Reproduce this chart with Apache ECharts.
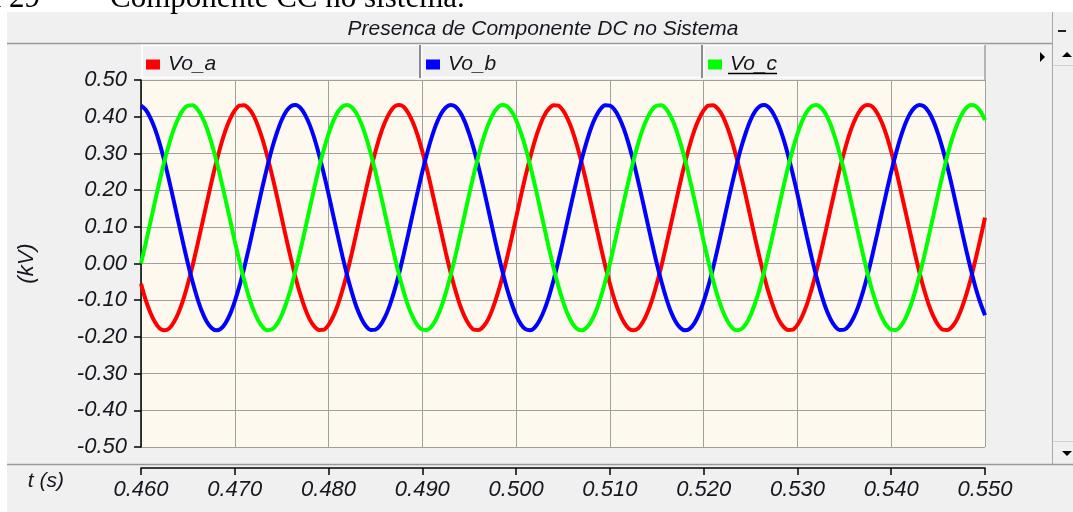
<!DOCTYPE html>
<html>
<head>
<meta charset="utf-8">
<script src="https://cdn.jsdelivr.net/npm/echarts@6/dist/echarts.min.js"></script>
<style>
html,body{margin:0;padding:0;background:#fff;}
#c{width:1073px;height:512px;}
</style>
</head>
<body>
<div id="c"></div>
<script>
// ---- data (every 0.5 ms) ----
const chartTitle = 'Presenca de Componente DC no Sistema';
const seriesNames = ['Vo_a', 'Vo_b', 'Vo_c'];
const yTicks = [-0.5, 0.5, 0.1];      // min, max, step (kV)
const xTicks = [0.46, 0.55, 0.01];    // min, max, step (s)

const t = [
0.4600,0.4605,0.4610,0.4615,0.4620,0.4625,0.4630,0.4635,0.4640,0.4645,
0.4650,0.4655,0.4660,0.4665,0.4670,0.4675,0.4680,0.4685,0.4690,0.4695,
0.4700,0.4705,0.4710,0.4715,0.4720,0.4725,0.4730,0.4735,0.4740,0.4745,
0.4750,0.4755,0.4760,0.4765,0.4770,0.4775,0.4780,0.4785,0.4790,0.4795,
0.4800,0.4805,0.4810,0.4815,0.4820,0.4825,0.4830,0.4835,0.4840,0.4845,
0.4850,0.4855,0.4860,0.4865,0.4870,0.4875,0.4880,0.4885,0.4890,0.4895,
0.4900,0.4905,0.4910,0.4915,0.4920,0.4925,0.4930,0.4935,0.4940,0.4945,
0.4950,0.4955,0.4960,0.4965,0.4970,0.4975,0.4980,0.4985,0.4990,0.4995,
0.5000,0.5005,0.5010,0.5015,0.5020,0.5025,0.5030,0.5035,0.5040,0.5045,
0.5050,0.5055,0.5060,0.5065,0.5070,0.5075,0.5080,0.5085,0.5090,0.5095,
0.5100,0.5105,0.5110,0.5115,0.5120,0.5125,0.5130,0.5135,0.5140,0.5145,
0.5150,0.5155,0.5160,0.5165,0.5170,0.5175,0.5180,0.5185,0.5190,0.5195,
0.5200,0.5205,0.5210,0.5215,0.5220,0.5225,0.5230,0.5235,0.5240,0.5245,
0.5250,0.5255,0.5260,0.5265,0.5270,0.5275,0.5280,0.5285,0.5290,0.5295,
0.5300,0.5305,0.5310,0.5315,0.5320,0.5325,0.5330,0.5335,0.5340,0.5345,
0.5350,0.5355,0.5360,0.5365,0.5370,0.5375,0.5380,0.5385,0.5390,0.5395,
0.5400,0.5405,0.5410,0.5415,0.5420,0.5425,0.5430,0.5435,0.5440,0.5445,
0.5450,0.5455,0.5460,0.5465,0.5470,0.5475,0.5480,0.5485,0.5490,0.5495,
0.5500];

const voA = [
-0.055,-0.099,-0.134,-0.160,-0.177,-0.182,-0.177,-0.160,-0.134,-0.099,
-0.055,-0.006,0.049,0.106,0.163,0.220,0.273,0.321,0.362,0.394,
0.417,0.430,0.431,0.422,0.403,0.373,0.335,0.289,0.238,0.183,
0.125,0.067,0.012,-0.040,-0.085,-0.123,-0.153,-0.172,-0.181,-0.180,
-0.167,-0.144,-0.112,-0.071,-0.023,0.030,0.087,0.144,0.201,0.256,
0.305,0.349,0.384,0.410,0.427,0.432,0.427,0.410,0.384,0.349,
0.305,0.256,0.201,0.144,0.087,0.030,-0.023,-0.071,-0.112,-0.144,
-0.167,-0.180,-0.181,-0.172,-0.153,-0.123,-0.085,-0.040,0.012,0.067,
0.125,0.183,0.238,0.289,0.335,0.373,0.403,0.422,0.431,0.430,
0.417,0.394,0.362,0.321,0.273,0.220,0.163,0.106,0.049,-0.006,
-0.055,-0.099,-0.134,-0.160,-0.177,-0.182,-0.177,-0.160,-0.134,-0.099,
-0.055,-0.006,0.049,0.106,0.163,0.220,0.273,0.321,0.362,0.394,
0.417,0.430,0.431,0.422,0.403,0.373,0.335,0.289,0.238,0.183,
0.125,0.067,0.012,-0.040,-0.085,-0.123,-0.153,-0.172,-0.181,-0.180,
-0.167,-0.144,-0.112,-0.071,-0.023,0.030,0.087,0.144,0.201,0.256,
0.305,0.349,0.384,0.410,0.427,0.432,0.427,0.410,0.384,0.349,
0.305,0.256,0.201,0.144,0.087,0.030,-0.023,-0.071,-0.112,-0.144,
-0.167,-0.180,-0.181,-0.172,-0.153,-0.123,-0.085,-0.040,0.012,0.067,
0.125];

const voB = [
0.430,0.419,0.397,0.366,0.326,0.279,0.226,0.170,0.112,0.055,
0.000,-0.050,-0.094,-0.131,-0.158,-0.175,-0.182,-0.178,-0.163,-0.138,
-0.103,-0.061,-0.012,0.042,0.099,0.157,0.214,0.267,0.316,0.357,
0.391,0.415,0.429,0.432,0.424,0.405,0.377,0.340,0.295,0.244,
0.189,0.131,0.074,0.018,-0.034,-0.080,-0.120,-0.150,-0.171,-0.181,
-0.180,-0.169,-0.147,-0.116,-0.076,-0.029,0.024,0.080,0.138,0.195,
0.250,0.300,0.344,0.381,0.408,0.425,0.432,0.428,0.413,0.388,
0.353,0.311,0.262,0.208,0.151,0.093,0.036,-0.017,-0.066,-0.107,
-0.141,-0.165,-0.179,-0.182,-0.174,-0.155,-0.127,-0.090,-0.045,0.006,
0.061,0.119,0.176,0.232,0.284,0.330,0.370,0.400,0.421,0.431,
0.430,0.419,0.397,0.366,0.326,0.279,0.226,0.170,0.112,0.055,
0.000,-0.050,-0.094,-0.131,-0.158,-0.175,-0.182,-0.178,-0.163,-0.138,
-0.103,-0.061,-0.012,0.042,0.099,0.157,0.214,0.267,0.316,0.357,
0.391,0.415,0.429,0.432,0.424,0.405,0.377,0.340,0.295,0.244,
0.189,0.131,0.074,0.018,-0.034,-0.080,-0.120,-0.150,-0.171,-0.181,
-0.180,-0.169,-0.147,-0.116,-0.076,-0.029,0.024,0.080,0.138,0.195,
0.250,0.300,0.344,0.381,0.408,0.425,0.432,0.428,0.413,0.388,
0.353,0.311,0.262,0.208,0.151,0.093,0.036,-0.017,-0.066,-0.107,
-0.141];

const voC = [
0.000,0.055,0.112,0.170,0.226,0.279,0.326,0.366,0.397,0.419,
0.430,0.431,0.421,0.400,0.370,0.330,0.284,0.232,0.176,0.119,
0.061,0.006,-0.045,-0.090,-0.127,-0.155,-0.174,-0.182,-0.179,-0.165,
-0.141,-0.107,-0.066,-0.017,0.036,0.093,0.151,0.208,0.262,0.311,
0.353,0.388,0.413,0.428,0.432,0.425,0.408,0.381,0.344,0.300,
0.250,0.195,0.138,0.080,0.024,-0.029,-0.076,-0.116,-0.147,-0.169,
-0.180,-0.181,-0.171,-0.150,-0.120,-0.080,-0.034,0.018,0.074,0.131,
0.189,0.244,0.295,0.340,0.377,0.405,0.424,0.432,0.429,0.415,
0.391,0.357,0.316,0.267,0.214,0.157,0.099,0.042,-0.012,-0.061,
-0.103,-0.138,-0.163,-0.178,-0.182,-0.175,-0.158,-0.131,-0.094,-0.050,
0.000,0.055,0.112,0.170,0.226,0.279,0.326,0.366,0.397,0.419,
0.430,0.431,0.421,0.400,0.370,0.330,0.284,0.232,0.176,0.119,
0.061,0.006,-0.045,-0.090,-0.127,-0.155,-0.174,-0.182,-0.179,-0.165,
-0.141,-0.107,-0.066,-0.017,0.036,0.093,0.151,0.208,0.262,0.311,
0.353,0.388,0.413,0.428,0.432,0.425,0.408,0.381,0.344,0.300,
0.250,0.195,0.138,0.080,0.024,-0.029,-0.076,-0.116,-0.147,-0.169,
-0.180,-0.181,-0.171,-0.150,-0.120,-0.080,-0.034,0.018,0.074,0.131,
0.189,0.244,0.295,0.340,0.377,0.405,0.424,0.432,0.429,0.415,
0.391];

const seriesValues = [voA, voB, voC];
const seriesColors = ['#ff0000', '#0000ff', '#00ff00'];

// ---- chart ----
const FONT = 'Liberation Sans, Arial, sans-serif';
const TXT = '#16161f';
const chart = echarts.init(document.getElementById('c'), null, {renderer: 'canvas'});

const series = seriesNames.map((n, i) => ({
  name: n,
  type: 'line',
  data: t.map((x, j) => [x, seriesValues[i][j]]),
  showSymbol: false,
  smooth: 0.3,
  lineStyle: {color: seriesColors[i], width: 4},
  itemStyle: {color: seriesColors[i]},
  emphasis: {disabled: true},
  animation: false,
  z: 3 + i
}));

const legendLeft = [146, 426, 708];
const legends = seriesNames.map((n, i) => ({
  data: [n],
  left: legendLeft[i], top: 54, padding: 0,
  itemWidth: 14, itemHeight: 10,
  icon: 'rect',
  selectedMode: false,
  textStyle: {fontFamily: FONT, fontStyle: 'italic', fontSize: 21, color: TXT, padding: [0, 0, 0, 3]}
}));

const G = '#a0a0a0';
const SERIF = '31px "Liberation Serif", "Times New Roman", serif';
chart.setOption({
  animation: false,
  backgroundColor: '#ffffff',
  textStyle: {fontFamily: FONT},
  grid: {left: 141, right: 88, top: 80, bottom: 65, show: true,
         backgroundColor: '#fef9ef', borderWidth: 0},
  legend: legends,
  xAxis: {
    type: 'value', min: xTicks[0], max: xTicks[1], interval: xTicks[2],
    offset: 21,
    name: 't (s)', nameLocation: 'start', nameGap: 77,
    nameTextStyle: {fontFamily: FONT, fontStyle: 'italic', fontSize: 21, color: TXT,
                    verticalAlign: 'top', lineHeight: 26},
    axisLine: {show: true, onZero: false, lineStyle: {color: '#000', width: 1.5}},
    axisTick: {show: true, length: 7, lineStyle: {color: '#000', width: 1.5}},
    axisLabel: {fontFamily: FONT, fontStyle: 'italic', fontSize: 22, color: TXT, margin: 11,
                formatter: v => v.toFixed(3)},
    splitLine: {show: true, lineStyle: {color: G, width: 1}}
  },
  yAxis: {
    type: 'value', min: yTicks[0], max: yTicks[1], interval: yTicks[2],
    name: '(kV)', nameLocation: 'middle', nameGap: 103, nameRotate: 90,
    nameTextStyle: {fontFamily: FONT, fontStyle: 'italic', fontSize: 22, color: TXT},
    axisLine: {show: true, onZero: false, lineStyle: {color: '#000', width: 1.5}},
    axisTick: {show: true, length: 7, lineStyle: {color: '#000', width: 1.5}},
    axisLabel: {fontFamily: FONT, fontStyle: 'italic', fontSize: 22, color: TXT, margin: 14,
                formatter: v => (Math.abs(v) < 1e-9 ? 0 : v).toFixed(2)},
    splitLine: {show: true, lineStyle: {color: G, width: 1}}
  },
  graphic: [
    // window panel
    {type: 'rect', z: -100, shape: {x: 7, y: 12, width: 1066, height: 500}, style: {fill: '#f0f0f0'}},
    // caption text above (cut off by the top edge)
    {type: 'text', z: -50, style: {x: 40, y: -1, text: 'ra 29', font: SERIF, fill: '#000', textAlign: 'right', textVerticalAlign: 'middle'}},
    {type: 'text', z: -50, style: {x: 110, y: -1, text: 'Componente CC no sistema.', font: SERIF, fill: '#000', textVerticalAlign: 'middle'}},
    // title
    {type: 'text', style: {x: 543, y: 29, text: chartTitle, font: 'italic 21px "Liberation Sans", Arial, sans-serif', fill: TXT, textAlign: 'center', textVerticalAlign: 'middle'}},
    {type: 'line', shape: {x1: 7, y1: 43.5, x2: 1052, y2: 43.5}, style: {stroke: '#9a9a9a', lineWidth: 1.5}},
    // legend row cells
    {type: 'line', shape: {x1: 141, y1: 45.5, x2: 985, y2: 45.5}, style: {stroke: '#ffffff', lineWidth: 1.5}},
    {type: 'line', shape: {x1: 141, y1: 77.5, x2: 985, y2: 77.5}, style: {stroke: '#ffffff', lineWidth: 1.5}},
    {type: 'line', shape: {x1: 142, y1: 45, x2: 142, y2: 78}, style: {stroke: '#ffffff', lineWidth: 1.5}},
    {type: 'line', shape: {x1: 420, y1: 45, x2: 420, y2: 78}, style: {stroke: '#8c8c8c', lineWidth: 2}},
    {type: 'line', shape: {x1: 422, y1: 45, x2: 422, y2: 78}, style: {stroke: '#ffffff', lineWidth: 1}},
    {type: 'line', shape: {x1: 702, y1: 45, x2: 702, y2: 78}, style: {stroke: '#8c8c8c', lineWidth: 2}},
    {type: 'line', shape: {x1: 704, y1: 45, x2: 704, y2: 78}, style: {stroke: '#ffffff', lineWidth: 1}},
    {type: 'line', shape: {x1: 985, y1: 45, x2: 985, y2: 80}, style: {stroke: '#a0a0a0', lineWidth: 1.5}},
    // underline of selected legend entry
    {type: 'line', shape: {x1: 728, y1: 73.5, x2: 777, y2: 73.5}, style: {stroke: '#000', lineWidth: 1.5}},
    // small right triangle
    {type: 'polygon', shape: {points: [[1040, 52], [1040, 62], [1045, 57]]}, style: {fill: '#000'}},
    // scroll bar column
    {type: 'line', shape: {x1: 1052.5, y1: 12, x2: 1052.5, y2: 465}, style: {stroke: '#a8a8a8', lineWidth: 1}},
    {type: 'line', shape: {x1: 1053, y1: 65.5, x2: 1073, y2: 65.5}, style: {stroke: '#d0d0d0', lineWidth: 1}},
    {type: 'line', shape: {x1: 1053, y1: 441.5, x2: 1073, y2: 441.5}, style: {stroke: '#d0d0d0', lineWidth: 1}},
    {type: 'polygon', shape: {points: [[1062, 57], [1072, 57], [1067, 52]]}, style: {fill: '#000'}},
    {type: 'polygon', shape: {points: [[1062, 451], [1072, 451], [1067, 456]]}, style: {fill: '#000'}},
    {type: 'line', shape: {x1: 1058, y1: 31, x2: 1066, y2: 31}, style: {stroke: '#222', lineWidth: 2}},
    // separator above time axis
    {type: 'line', shape: {x1: 7, y1: 464.5, x2: 1073, y2: 464.5}, style: {stroke: '#9a9a9a', lineWidth: 1.5}}
  ],
  series: series
});
</script>
</body>
</html>
